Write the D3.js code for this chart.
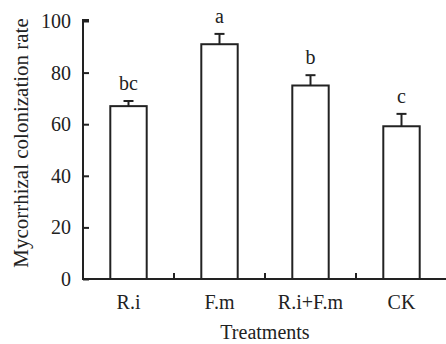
<!DOCTYPE html>
<html>
<head>
<meta charset="utf-8">
<script src="https://cdn.jsdelivr.net/npm/d3@7"></script>
<style>
  html, body { margin: 0; padding: 0; background: #fff; }
  svg { display: block; }
  text { font-family: "Liberation Serif", "DejaVu Serif", serif; fill: #222; }
</style>
</head>
<body>
<div id="chart"></div>
<script>
// data
const treatments = ['R.i', 'F.m', 'R.i+F.m', 'CK'];
const colonization = [67, 91, 75, 59.2];
const errors = [2, 4, 4, 4.8];
const letters = ['bc', 'a', 'b', 'c'];
const yTicks = [0, 20, 40, 60, 80, 100];

const width = 446;
const height = 344;
const margin = { top: 21, right: -1, bottom: 65, left: 83 };

const svg = d3.select('#chart').append('svg')
    .attr('width', width)
    .attr('height', height);

const x = d3.scaleBand()
    .domain(treatments)
    .range([margin.left, width - margin.right])
    .paddingInner(0.6)
    .paddingOuter(0.3);

const y = d3.scaleLinear()
    .domain([0, 100])
    .range([height - margin.bottom, margin.top]);

const rows = treatments.map((t, i) => ({
    key: t, value: colonization[i], err: errors[i], letter: letters[i]
}));

// bars
svg.append('g').selectAll('rect')
    .data(rows)
    .enter()
    .append('rect')
    .attr('x', d => x(d.key))
    .attr('y', d => y(d.value))
    .attr('width', x.bandwidth())
    .attr('height', d => y(0) - y(d.value))
    .attr('fill', '#fff')
    .attr('stroke', '#222')
    .attr('stroke-width', 2);

// error bars, upward only
const capHalf = 5;
const eb = svg.append('g').attr('stroke', '#222').attr('stroke-width', 2);
eb.selectAll('.stem')
    .data(rows)
    .enter()
    .append('line')
    .attr('x1', d => x(d.key) + x.bandwidth() / 2)
    .attr('x2', d => x(d.key) + x.bandwidth() / 2)
    .attr('y1', d => y(d.value))
    .attr('y2', d => y(d.value + d.err));
eb.selectAll('.cap')
    .data(rows)
    .enter()
    .append('line')
    .attr('x1', d => x(d.key) + x.bandwidth() / 2 - capHalf)
    .attr('x2', d => x(d.key) + x.bandwidth() / 2 + capHalf)
    .attr('y1', d => y(d.value + d.err))
    .attr('y2', d => y(d.value + d.err));

// significance letters
svg.append('g').selectAll('text')
    .data(rows)
    .enter()
    .append('text')
    .attr('x', d => x(d.key) + x.bandwidth() / 2)
    .attr('y', d => y(d.value + d.err) - 11)
    .attr('text-anchor', 'middle')
    .attr('font-size', 20)
    .text(d => d.letter);

// y axis, ticks pointing inward
const yAxis = d3.axisLeft(y).tickValues(yTicks).tickSizeInner(-6).tickSizeOuter(0).tickPadding(12);
const yg = svg.append('g')
    .attr('transform', 'translate(' + margin.left + ',0)')
    .call(yAxis);
yg.select('.domain').attr('stroke', '#222').attr('stroke-width', 2)
    .attr('d', 'M0,' + y(0) + 'V' + (y(100) - 1) + 'H6');
yg.selectAll('.tick line').attr('stroke', '#222').attr('stroke-width', 2);
yg.selectAll('.tick text').attr('font-size', 20).attr('fill', '#222')
    .attr('font-family', '"Liberation Serif", serif');

// x axis, ticks between categories pointing up
const xg = svg.append('g')
    .attr('transform', 'translate(0,' + y(0) + ')');
xg.append('line')
    .attr('x1', margin.left - 1)
    .attr('x2', width)
    .attr('stroke', '#222')
    .attr('stroke-width', 2);
const step = x.step();
const dividers = treatments.slice(1).map(t => x(t) - step * x.paddingInner() / 2);
xg.selectAll('.divider')
    .data(dividers)
    .enter()
    .append('line')
    .attr('x1', d => d)
    .attr('x2', d => d)
    .attr('y1', 0)
    .attr('y2', -6)
    .attr('stroke', '#222')
    .attr('stroke-width', 2);
xg.selectAll('.xlabel')
    .data(treatments)
    .enter()
    .append('text')
    .attr('x', d => x(d) + x.bandwidth() / 2)
    .attr('y', 30)
    .attr('text-anchor', 'middle')
    .attr('font-size', 20)
    .text(d => d);

// axis titles
svg.append('text')
    .attr('x', 265)
    .attr('y', 339)
    .attr('text-anchor', 'middle')
    .attr('font-size', 20)
    .text('Treatments');

svg.append('text')
    .attr('transform', 'translate(28,' + 143 + ') rotate(-90)')
    .attr('text-anchor', 'middle')
    .attr('font-size', 21)
    .text('Mycorrhizal colonization rate');
</script>
</body>
</html>
